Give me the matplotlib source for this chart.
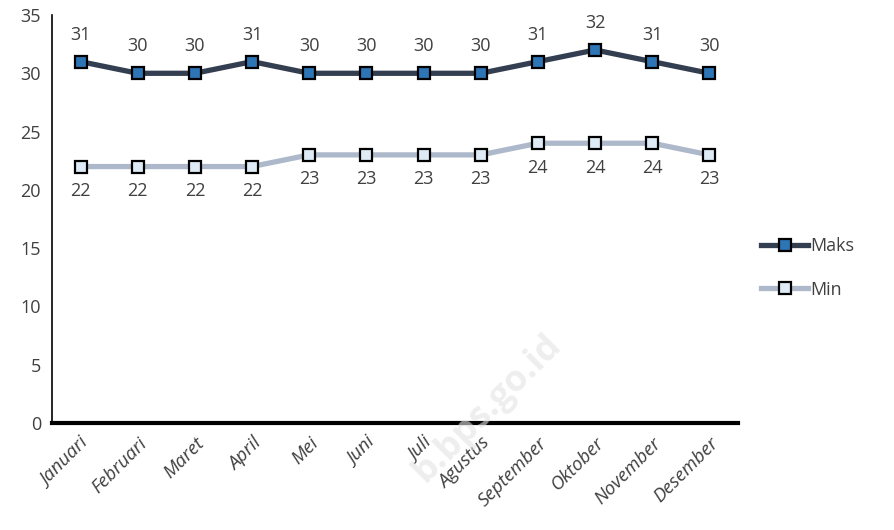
import matplotlib.pyplot as plt

# Data
bulan = ['Januari', 'Februari', 'Maret', 'April', 'Mei', 'Juni', 'Juli',
         'Agustus', 'September', 'Oktober', 'November', 'Desember']
maks = [31, 30, 30, 31, 30, 30, 30, 30, 31, 32, 31, 30]
mins = [22, 22, 22, 22, 23, 23, 23, 23, 24, 24, 24, 23]

plt.rcParams['font.family'] = ['Open Sans', 'DejaVu Sans']
txt = '#404040'

fig = plt.figure(figsize=(8.94, 5.30), dpi=100)
ax = fig.add_axes([52 / 894, 1 - 423 / 530, (738 - 52) / 894, (423 - 15) / 530])

x = list(range(len(bulan)))
ax.plot(x, maks, color='#333F50', lw=3.8, marker='s', ms=8.5,
        mfc='#2E75B6', mec='black', mew=1.6, label='Maks', zorder=3)
ax.plot(x, mins, color='#ADB9CA', lw=3.8, marker='s', ms=8.5,
        mfc='#DEEBF7', mec='black', mew=1.6, label='Min', zorder=3)

# data labels
for i in x:
    ax.annotate(str(maks[i]), (i, maks[i]), xytext=(0, 13), textcoords='offset points',
                ha='center', va='bottom', fontsize=13, color=txt)
    ax.annotate(str(mins[i]), (i, mins[i]), xytext=(0, -11), textcoords='offset points',
                ha='center', va='top', fontsize=13, color=txt)

ax.set_xlim(-0.5, 11.5)
ax.set_ylim(0, 35)
ax.set_yticks(range(0, 36, 5))
ax.set_xticks(x)
ax.set_xticklabels(bulan, rotation=45, ha='right', rotation_mode='anchor',
                   fontsize=13.5, color=txt, style='italic')
ax.tick_params(axis='y', labelsize=13, labelcolor=txt, length=0, pad=8)
ax.tick_params(axis='x', length=0, pad=8)

for s in ['top', 'right']:
    ax.spines[s].set_visible(False)
ax.spines['left'].set_linewidth(1.2)
ax.spines['bottom'].set_linewidth(3)
ax.spines['left'].set_color('black')
ax.spines['bottom'].set_color('black')

# watermark
fig.text(0.545, 0.23, 'b.bps.go.id', fontsize=26, color='#E3E3E3', rotation=45,
         ha='center', va='center', fontweight='bold', alpha=0.6, zorder=0)

leg = ax.legend(loc='center left', frameon=False, fontsize=13, handlelength=2.6,
                handletextpad=0.1, labelspacing=1.4, labelcolor=txt)
leg.set_bbox_to_anchor((745 / 894, 1 - 268 / 530), transform=fig.transFigure)

fig.savefig('out.png', dpi=100)
